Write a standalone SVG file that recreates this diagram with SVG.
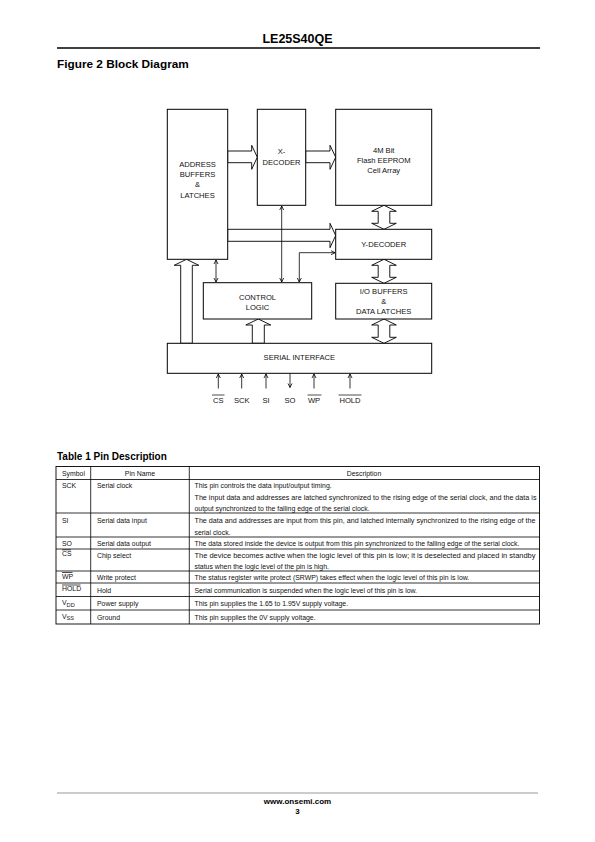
<svg xmlns="http://www.w3.org/2000/svg" width="595" height="842" viewBox="0 0 595 842">
<style>
.bx{fill:#fff;stroke:#000;stroke-width:1}
.ha{fill:#fff;stroke:#000;stroke-width:0.9;stroke-linejoin:miter}
.ln{fill:none;stroke:#000;stroke-width:0.8}
.t{font-family:"Liberation Sans",Arial,sans-serif;font-size:7.6px;fill:#111;text-anchor:middle}
.tb{font-family:"Liberation Sans",Arial,sans-serif;font-size:6.9px;fill:#111}
.tl{stroke:#000;stroke-width:0.8}
.ov{stroke:#000;stroke-width:0.7}
.h{font-family:"Liberation Sans",Arial,sans-serif;font-weight:bold;fill:#000}
</style>
<defs>
<marker id="a" viewBox="0 0 8 8" refX="7.5" refY="4" markerWidth="8" markerHeight="8" markerUnits="userSpaceOnUse" orient="auto-start-reverse">
<path d="M3.5,2 L7.5,4 L3.5,6" fill="none" stroke="#000" stroke-width="0.8"/>
</marker>
</defs>
<rect width="595" height="842" fill="#fff"/>

<!-- header -->
<text class="h" x="297.5" y="43" font-size="12.5" text-anchor="middle">LE25S40QE</text>
<line x1="57" y1="48" x2="540" y2="48" stroke="#000" stroke-width="1.6"/>
<text class="h" x="57" y="67.5" font-size="11.8">Figure 2 Block Diagram</text>

<!-- connectors -->
<g id="connectors">
<polygon class="ha" points="227.7,151 251.7,151 251.7,145.3 257.3,157.2 251.7,169.3 251.7,162.7 227.7,162.7"/>
<polygon class="ha" points="305.7,151 330,151 330,145.3 335.7,157.2 330,169.3 330,162.7 305.7,162.7"/>
<polygon class="ha" points="227.7,229.3 330,229.3 330,223.3 335.7,235.5 330,247.7 330,241.3 227.7,241.3"/>
<polygon class="ha" points="378.2,211.3 371.7,211.3 384,205.3 396.3,211.3 389.8,211.3 389.8,223.3 396.3,223.3 384,229.3 371.7,223.3 378.2,223.3"/>
<polygon class="ha" points="378.2,265.3 371.7,265.3 384,259.3 396.3,265.3 389.8,265.3 389.8,277.3 396.3,277.3 384,283.3 371.7,277.3 378.2,277.3"/>
<polygon class="ha" points="378.2,325 371.7,325 384,319 396.3,325 389.8,325 389.8,337.3 396.3,337.3 384,343.3 371.7,337.3 378.2,337.3"/>
<polygon class="ha" points="180.7,343.3 180.7,265.3 174.2,265.3 186.5,259.3 198.8,265.3 192.3,265.3 192.3,343.3"/>
<polygon class="ha" points="252.3,343.3 252.3,325 245.8,325 258.3,319 270.8,325 264.3,325 264.3,343.3"/>
<line class="ln" x1="281.7" y1="206" x2="281.7" y2="282" marker-start="url(#a)" marker-end="url(#a)"/>
<line class="ln" x1="216" y1="260" x2="216" y2="282" marker-start="url(#a)" marker-end="url(#a)"/>
<polyline class="ln" points="299.3,282 299.3,252.7 335,252.7" marker-start="url(#a)" marker-end="url(#a)"/>
<line class="ln" x1="218.3" y1="388.5" x2="218.3" y2="374" marker-end="url(#a)"/>
<line class="ln" x1="241.7" y1="388.5" x2="241.7" y2="374" marker-end="url(#a)"/>
<line class="ln" x1="266" y1="388.5" x2="266" y2="374" marker-end="url(#a)"/>
<line class="ln" x1="290" y1="373.3" x2="290" y2="387.5" marker-end="url(#a)"/>
<line class="ln" x1="314" y1="388.5" x2="314" y2="374" marker-end="url(#a)"/>
<line class="ln" x1="350" y1="388.5" x2="350" y2="374" marker-end="url(#a)"/>
</g>

<!-- nodes -->
<g id="address">
<rect class="bx" x="167.3" y="109.3" width="60.4" height="150"/>
<text class="t" x="197.5" y="166.5">ADDRESS</text>
<text class="t" x="197.5" y="177">BUFFERS</text>
<text class="t" x="197.5" y="187">&amp;</text>
<text class="t" x="197.5" y="197.5">LATCHES</text>
</g>
<g id="xdecoder">
<rect class="bx" x="257.3" y="109.3" width="48.4" height="96"/>
<text class="t" x="281.5" y="154">X-</text>
<text class="t" x="281.5" y="164.5">DECODER</text>
</g>
<g id="cellarray">
<rect class="bx" x="335.7" y="109.3" width="96" height="96"/>
<text class="t" x="383.7" y="152.5">4M Bit</text>
<text class="t" x="383.7" y="162.5">Flash EEPROM</text>
<text class="t" x="383.7" y="172.5">Cell Array</text>
</g>
<g id="ydecoder">
<rect class="bx" x="335.7" y="229.3" width="96" height="30"/>
<text class="t" x="383.7" y="246.5">Y-DECODER</text>
</g>
<g id="control">
<rect class="bx" x="203.3" y="282.7" width="108.4" height="36.3"/>
<text class="t" x="257.5" y="300">CONTROL</text>
<text class="t" x="257.5" y="310">LOGIC</text>
</g>
<g id="iobuffers">
<rect class="bx" x="335.7" y="283.3" width="96" height="35.7"/>
<text class="t" x="383.7" y="293.5">I/O BUFFERS</text>
<text class="t" x="383.7" y="303.5">&amp;</text>
<text class="t" x="383.7" y="313.5">DATA LATCHES</text>
</g>
<g id="serial">
<rect class="bx" x="167.3" y="343.3" width="264.4" height="30"/>
<text class="t" x="299.3" y="360.3">SERIAL INTERFACE</text>
</g>
<g id="pins">
<text class="t" x="218.3" y="402.5">CS</text>
<line class="ov" x1="212" y1="395" x2="224.5" y2="395"/>
<text class="t" x="241.7" y="402.5">SCK</text>
<text class="t" x="266" y="402.5">SI</text>
<text class="t" x="290" y="402.5">SO</text>
<text class="t" x="314" y="402.5">WP</text>
<line class="ov" x1="307.5" y1="395" x2="321.5" y2="395"/>
<text class="t" x="350" y="402.5">HOLD</text>
<line class="ov" x1="338.5" y1="395" x2="361.5" y2="395"/>
</g>

<!-- table -->
<text class="h" x="57" y="460" font-size="10">Table 1 Pin Description</text>
<g id="table">
<rect x="56" y="466.5" width="483.5" height="157.5" fill="none" stroke="#000" stroke-width="0.9"/>
<line class="tl" x1="90.7" y1="466.5" x2="90.7" y2="624"/>
<line class="tl" x1="189.3" y1="466.5" x2="189.3" y2="624"/>
<line class="tl" x1="56" y1="479.5" x2="539.5" y2="479.5"/>
<line class="tl" x1="56" y1="513" x2="539.5" y2="513"/>
<line class="tl" x1="56" y1="537" x2="539.5" y2="537"/>
<line class="tl" x1="56" y1="549" x2="539.5" y2="549"/>
<line class="tl" x1="56" y1="571" x2="539.5" y2="571"/>
<line class="tl" x1="56" y1="583" x2="539.5" y2="583"/>
<line class="tl" x1="56" y1="596.5" x2="539.5" y2="596.5"/>
<line class="tl" x1="56" y1="610" x2="539.5" y2="610"/>

<text class="tb" x="62" y="475.5">Symbol</text>
<text class="tb" x="140" y="475.5" text-anchor="middle">Pin Name</text>
<text class="tb" x="364" y="475.5" text-anchor="middle">Description</text>

<text class="tb" x="62" y="487.5">SCK</text>
<text class="tb" x="97" y="487.5">Serial clock</text>
<text class="tb" x="194.5" y="487.5">This pin controls the data input/output timing.</text>
<text class="tb" x="194.5" y="499.5" textLength="342" lengthAdjust="spacingAndGlyphs">The input data and addresses are latched synchronized to the rising edge of the serial clock, and the data is</text>
<text class="tb" x="194.5" y="511">output synchronized to the falling edge of the serial clock.</text>

<text class="tb" x="62" y="522.5">SI</text>
<text class="tb" x="97" y="522.5">Serial data input</text>
<text class="tb" x="194.5" y="522.5" textLength="341" lengthAdjust="spacingAndGlyphs">The data and addresses are input from this pin, and latched internally synchronized to the rising edge of the</text>
<text class="tb" x="194.5" y="534.5">serial clock.</text>

<text class="tb" x="62" y="545.5">SO</text>
<text class="tb" x="97" y="545.5">Serial data output</text>
<text class="tb" x="194.5" y="545.5">The data stored inside the device is output from this pin synchronized to the falling edge of the serial clock.</text>

<text class="tb" x="62" y="555.5">CS</text>
<line class="ov" x1="62" y1="549.8" x2="71" y2="549.8"/>
<text class="tb" x="97" y="558">Chip select</text>
<text class="tb" x="194.5" y="558" textLength="341" lengthAdjust="spacingAndGlyphs">The device becomes active when the logic level of this pin is low; it is deselected and placed in standby</text>
<text class="tb" x="194.5" y="568.5">status when the logic level of the pin is high.</text>

<text class="tb" x="62" y="578.5">WP</text>
<line class="ov" x1="62" y1="572.5" x2="72.5" y2="572.5"/>
<text class="tb" x="97" y="580">Write protect</text>
<text class="tb" x="194.5" y="580">The status register write protect (SRWP) takes effect when the logic level of this pin is low.</text>

<text class="tb" x="62" y="591">HOLD</text>
<line class="ov" x1="62" y1="585" x2="80.5" y2="585"/>
<text class="tb" x="97" y="592.5">Hold</text>
<text class="tb" x="194.5" y="592.5">Serial communication is suspended when the logic level of this pin is low.</text>

<text class="tb" x="62" y="605">V<tspan font-size="5.6" dy="1.8">DD</tspan></text>
<text class="tb" x="97" y="606">Power supply</text>
<text class="tb" x="194.5" y="606">This pin supplies the 1.65 to 1.95V supply voltage.</text>

<text class="tb" x="62" y="618.5">V<tspan font-size="5.6" dy="1.8">SS</tspan></text>
<text class="tb" x="97" y="619.5">Ground</text>
<text class="tb" x="194.5" y="619.5">This pin supplies the 0V supply voltage.</text>
</g>

<!-- footer -->
<line x1="57" y1="793" x2="538" y2="793" stroke="#999" stroke-width="1.2"/>
<text class="h" x="297.5" y="804" font-size="8" text-anchor="middle">www.onsemi.com</text>
<text class="h" x="297.5" y="814" font-size="8" text-anchor="middle">3</text>
</svg>
